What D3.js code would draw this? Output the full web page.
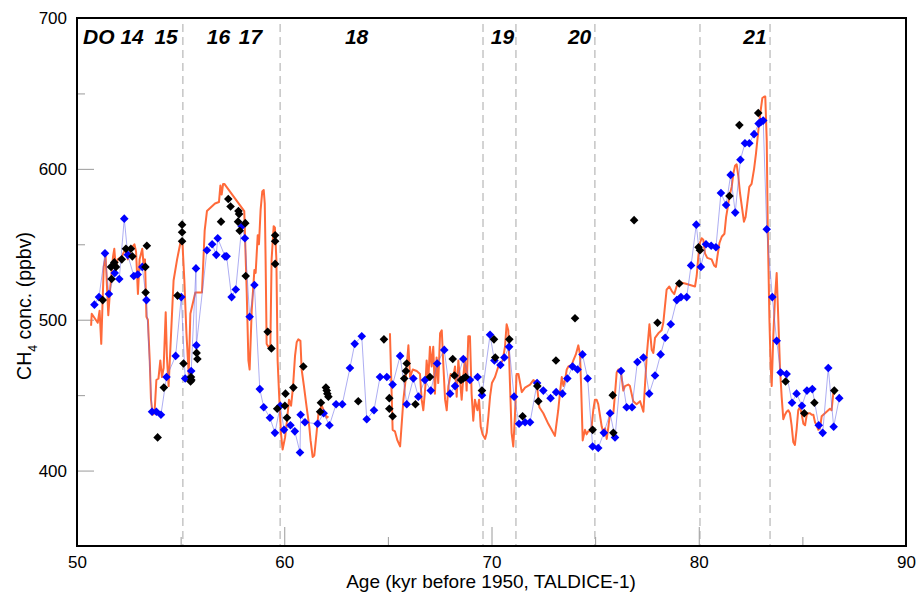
<!DOCTYPE html>
<html>
<head>
<meta charset="utf-8">
<script src="https://cdn.jsdelivr.net/npm/d3@7"></script>
<style>
body { margin: 0; background: #fff; }
text { font-family: "Liberation Sans", Arial, sans-serif; }
</style>
</head>
<body>
<svg width="916" height="594"></svg>
<script>
// ---- data (age in kyr before 1950, CH4 in ppbv) ----
// high resolution record (orange line), null = gap in the record
const orangeAge = [50.68,50.71,51.00,51.09,51.17,51.29,51.38,51.51,51.61,51.74,51.80,51.88,51.96,52.17,52.33,52.45,52.65,52.77,52.85,52.94,
  53.02,53.15,53.22,53.28,53.35,53.42,53.51,53.57,53.65,53.74,53.83,53.93,54.02,54.10,54.18,54.28,54.34,54.42,54.66,54.83,
  54.99,55.08,55.18,55.28,55.39,55.47,55.71,56.03,56.16,56.27,56.66,56.85,56.92,56.98,57.05,57.11,58.07,58.19,58.27,58.33,
  58.43,58.56,58.62,58.72,58.78,58.86,58.94,59.01,59.06,59.10,59.15,59.23,59.33,59.39,59.49,59.55,59.62,59.68,59.75,59.84,
  59.92,60.04,60.13,60.23,60.33,60.42,60.52,60.60,60.68,60.78,60.84,60.95,61.08,61.21,61.27,61.37,61.45,61.56,61.65,61.81,
  61.90,62.05,62.13,63.60,
  65.10,65.23,65.34,65.46,65.59,65.75,65.87,65.99,66.07,66.20,66.39,66.55,66.63,66.71,66.81,66.87,66.95,67.03,67.11,67.19,
  67.27,67.35,67.43,67.52,67.60,67.68,67.76,67.84,67.92,68.03,68.16,68.24,68.32,68.40,68.48,68.56,68.64,68.72,68.80,68.88,
  68.96,69.04,69.12,69.20,69.32,69.40,69.48,69.57,69.69,69.77,69.85,69.93,70.02,70.17,70.33,70.54,70.65,70.73,70.81,70.89,
  70.97,71.05,71.13,71.21,71.30,71.46,71.62,71.86,72.02,72.18,72.31,72.50,72.74,72.90,73.06,73.22,73.30,73.39,73.47,73.55,
  73.63,73.71,73.87,73.95,74.07,74.19,74.27,74.32,74.40,74.51,74.59,74.67,74.75,74.83,74.91,74.99,75.07,75.15,75.24,75.32,
  75.40,75.48,75.56,75.64,75.72,75.88,75.96,76.04,76.12,76.23,76.36,76.44,76.60,76.68,76.84,77.00,77.17,77.33,77.49,77.62,
  77.73,77.81,77.89,78.05,78.21,78.29,78.45,78.58,78.70,78.82,78.93,79.02,79.34,79.58,79.82,79.90,79.98,80.06,80.14,80.22,
  80.30,80.41,80.62,80.74,80.83,80.90,81.00,81.11,81.24,81.32,81.38,81.48,81.59,81.67,81.75,81.83,81.91,81.99,82.10,82.18,
  82.26,82.34,82.44,82.55,82.67,82.76,82.88,82.99,83.07,83.17,83.21,83.28,83.33,83.41,83.47,83.52,83.60,83.68,83.76,83.84,
  83.92,84.00,84.08,84.16,84.24,84.32,84.40,84.48,84.56,84.64,84.72,84.80,84.88,84.96,85.05,85.13,85.21,85.29,85.37,85.45,
  85.53,85.61,85.69,85.77,85.85,85.93,86.01,86.17,86.25,86.33,86.41,86.49,86.54];
const orangeCH4 = [496,504,498,506,484,535,542,503,522,542,547,533,540,542,547,540,548,550,545,517,
  540,547,535,540,502,500,473,447,437,438,460,461,473,462,468,505,475,456,526,540,
  551,553,526,491,464,504,518,518,559,572,577,578,589,583,590,590,572,518,473,467,
  506,533,531,556,550,573,585,586,577,540,484,482,483,540,562,561,540,473,451,425,
  414,422,433,447,443,455,476,485,487,486,467,456,442,429,420,409,410,425,438,443,
  440,435,436,null,
  491,427,426,420,416,447,462,483,462,467,466,464,447,440,456,473,460,482,469,482,
  451,475,458,491,493,469,447,440,456,464,462,469,449,473,460,447,462,475,453,489,
  489,451,433,447,440,447,429,424,421,425,436,449,458,462,469,473,482,497,493,458,
  425,416,436,464,464,452,455,457,460,458,442,438,431,427,423,440,451,462,456,460,
  467,469,470,473,477,483,477,458,420,427,424,426,426,429,440,447,447,444,436,429,
  425,428,421,429,438,438,451,465,467,467,453,456,457,456,446,444,446,439,476,497,
  480,478,488,491,493,498,520,522,519,517,522,525,524,523,522,529,542,551,554,553,
  544,541,540,536,535,542,551,555,557,568,573,582,588,597,602,603,595,584,573,565,
  568,577,588,590,600,610,626,639,647,648,648,619,560,500,469,456,490,515,531,500,
  468,449,434,437,439,440,438,430,419,417,427,440,442,438,431,430,437,438,438,437,
  437,432,430,427,428,436,437,439,440,441,440,451,453];

// discrete measurements, blue (connected by a thin line)
const blueAge = [50.84,51.06,51.35,51.54,51.82,52.04,52.28,52.45,52.74,52.93,53.15,53.35,53.62,53.83,54.05,54.32,54.76,55.03,55.22,55.51,
  55.74,55.76,56.27,56.52,56.72,56.79,57.14,57.22,57.46,57.66,57.95,58.10,58.33,58.56,58.82,59.01,59.31,59.55,59.81,59.99,
  60.30,60.51,60.76,60.79,61.00,61.61,61.90,62.18,62.50,62.80,63.17,63.40,63.74,63.98,64.33,64.62,64.95,65.23,65.59,65.91,
  66.23,66.47,66.79,67.07,67.38,67.72,68.00,68.24,68.64,68.96,69.33,69.54,69.93,70.14,70.43,70.62,70.85,71.09,71.33,71.62,
  71.86,72.20,72.50,72.85,73.12,73.42,73.66,73.91,74.15,74.39,74.64,74.88,75.15,75.42,75.72,75.96,76.25,76.52,76.78,77.04,
  77.33,77.61,77.89,78.16,78.38,78.65,78.94,79.14,79.42,79.63,79.88,80.10,80.35,80.60,80.83,81.07,81.32,81.54,81.76,82.01,
  82.23,82.44,82.67,82.89,82.99,83.11,83.28,83.55,83.76,83.95,84.24,84.50,84.72,84.98,85.22,85.48,85.79,85.98,86.25,86.51,
  86.78];
const blueCH4 = [510,515,544,517,531,527,567,543,529,530,535,513,439,439,437,462,476,515,461,466,
  534,483,546,550,543,554,542,542,515,520,562,554,502,523,454,442,435,425,443,427,
  430,426,412,437,432,431,438,430,444,444,468,484,489,434,440,462,462,457,476,444,
  461,449,460,453,471,480,451,456,474,460,462,450,490,473,470,475,482,449,431,432,
  432,458,453,448,452,451,461,469,467,477,461,416,415,425,438,422,466,442,442,472,
  475,451,463,477,488,497,513,515,515,536,563,535,550,549,548,584,576,596,571,606,
  617,617,623,630,631,632,560,515,486,465,464,445,451,443,453,454,430,425,468,429,
  448];

// discrete measurements, black (markers only)
const blackAge = [51.24,51.64,51.67,51.80,51.88,52.16,52.36,52.60,52.67,53.30,53.31,53.37,53.89,54.19,54.85,55.07,55.07,55.07,55.14,55.48,
  55.50,55.52,55.77,55.81,56.95,57.30,57.41,57.77,57.79,57.82,57.85,58.12,58.14,59.20,59.38,59.56,59.56,59.56,59.66,60.03,
  60.06,60.13,60.44,60.92,61.73,61.77,62.01,62.05,62.08,62.13,63.57,64.81,65.07,65.07,65.23,65.79,65.87,65.91,66.33,67.03,
  68.13,68.21,68.53,68.64,68.75,69.54,70.12,70.18,70.86,71.50,72.21,72.26,73.11,74.03,74.88,75.85,75.88,76.88,78.01,79.06,
  79.99,80.06,81.48,81.96,82.87,84.19,85.09,85.58,86.54];
const blackCH4 = [513,535,527,538,535,540,547,547,542,535,518,549,422,455,516,563,558,552,471,459,
  462,460,478,474,565,580,575,565,572,570,559,564,529,492,481,556,552,537,441,443,
  451,435,455,469,439,445,455,453,451,449,446,487,448,441,436,461,466,471,444,462,
  474,463,460,461,462,453,487,475,487,436,456,446,473,501,427,450,425,566,498,524,
  548,546,582,629,637,459,438,445,453];

// Dansgaard-Oeschger event boundaries (dashed) and labels
const doLines = [55.11, 59.80, 69.59, 71.18, 74.99, 80.06, 83.44];
const doLabels = ['DO 14', '15', '16', '17', '18', '19', '20', '21'];
const doLabelAge = [51.76, 54.30, 56.83, 58.37, 63.49, 70.53, 74.25, 82.71];

const xMajor = [50, 60, 70, 80, 90];
const xMinor = [55, 65, 75, 85];
const yMajor = [400, 500, 600, 700];
const yMinor = [450, 550, 650];

// ---- chart ----
const svg = d3.select('svg');
const plotLeft = 77, plotRight = 906, plotTop = 18, plotBottom = 546;

const x = d3.scaleLinear().domain([50, 90]).range([plotLeft, plotRight]);
const y = d3.scaleLinear().domain([350, 700]).range([plotBottom, plotTop]);

// inside ticks
svg.append('g')
    .attr('transform', `translate(${plotLeft},0)`)
    .call(d3.axisLeft(y).tickValues(yMajor).tickSize(-17).tickPadding(10))
    .call(g => g.select('.domain').remove())
    .call(g => g.selectAll('line').attr('stroke', '#9a9a9a'))
    .call(g => g.selectAll('text').attr('font-size', 17).attr('fill', '#000')
        .attr('font-family', '"Liberation Sans", Arial, sans-serif'));

svg.append('g')
    .attr('transform', `translate(${plotLeft},0)`)
    .call(d3.axisLeft(y).tickValues(yMinor).tickSize(-8).tickFormat(''))
    .call(g => g.select('.domain').remove())
    .call(g => g.selectAll('line').attr('stroke', '#9a9a9a'));

svg.append('g')
    .attr('transform', `translate(0,${plotBottom})`)
    .call(d3.axisBottom(x).tickValues(xMajor).tickSize(-19).tickPadding(6))
    .call(g => g.select('.domain').remove())
    .call(g => g.selectAll('line').attr('stroke', '#9a9a9a'))
    .call(g => g.selectAll('text').attr('font-size', 17).attr('fill', '#000')
        .attr('dy', '0.95em')
        .attr('font-family', '"Liberation Sans", Arial, sans-serif'));

svg.append('g')
    .attr('transform', `translate(0,${plotBottom})`)
    .call(d3.axisBottom(x).tickValues(xMinor).tickSize(-9).tickFormat(''))
    .call(g => g.select('.domain').remove())
    .call(g => g.selectAll('line').attr('stroke', '#9a9a9a'));

// dashed event lines
svg.selectAll('.doline')
    .data(doLines)
    .enter()
    .append('line')
    .attr('x1', d => x(d)).attr('x2', d => x(d))
    .attr('y1', plotTop + 6).attr('y2', plotBottom)
    .attr('stroke', '#a8a8a8')
    .attr('stroke-width', 1)
    .attr('stroke-dasharray', '8,5');

// orange line
const orangePts = orangeAge.map((a, i) => [a, orangeCH4[i]]);
const line = d3.line()
    .defined(d => d[1] != null)
    .x(d => x(d[0]))
    .y(d => y(d[1]));

svg.append('path')
    .datum(orangePts)
    .attr('fill', 'none')
    .attr('stroke', '#ff6a3a')
    .attr('stroke-width', 2)
    .attr('stroke-linejoin', 'round')
    .attr('d', line);

// blue thin line
const bluePts = blueAge.map((a, i) => [a, blueCH4[i]]);
svg.append('path')
    .datum(bluePts)
    .attr('fill', 'none')
    .attr('stroke', '#6a6ae8')
    .attr('stroke-opacity', 0.55)
    .attr('stroke-width', 1)
    .attr('d', line);

const diamond = 'M0,-4.3L4.3,0L0,4.3L-4.3,0Z';

svg.selectAll('.blue')
    .data(bluePts)
    .enter()
    .append('path')
    .attr('d', diamond)
    .attr('transform', d => `translate(${x(d[0])},${y(d[1])})`)
    .attr('fill', '#0000ff');

const blackPts = blackAge.map((a, i) => [a, blackCH4[i]]);
svg.selectAll('.black')
    .data(blackPts)
    .enter()
    .append('path')
    .attr('d', diamond)
    .attr('transform', d => `translate(${x(d[0])},${y(d[1])})`)
    .attr('fill', '#000');

// event labels
svg.selectAll('.dolabel')
    .data(doLabels)
    .enter()
    .append('text')
    .attr('x', (d, i) => x(doLabelAge[i]))
    .attr('y', 44)
    .attr('text-anchor', 'middle')
    .attr('font-size', 21)
    .attr('font-weight', 'bold')
    .attr('font-style', 'italic')
    .text(d => d);

// frame
svg.append('rect')
    .attr('x', plotLeft).attr('y', plotTop)
    .attr('width', plotRight - plotLeft).attr('height', plotBottom - plotTop)
    .attr('fill', 'none')
    .attr('stroke', '#000')
    .attr('stroke-width', 2);

// axis titles
svg.append('text')
    .attr('x', 491)
    .attr('y', 588)
    .attr('text-anchor', 'middle')
    .attr('font-size', 19)
    .text('Age (kyr before 1950, TALDICE-1)');

const yt = svg.append('text')
    .attr('transform', 'translate(31,306) rotate(-90)')
    .attr('text-anchor', 'middle')
    .attr('font-size', 19.5);
yt.append('tspan').text('CH');
yt.append('tspan').attr('font-size', 12.5).attr('dy', 6).text('4');
yt.append('tspan').attr('dy', -6).text(' conc. (ppbv)');
</script>
</body>
</html>
